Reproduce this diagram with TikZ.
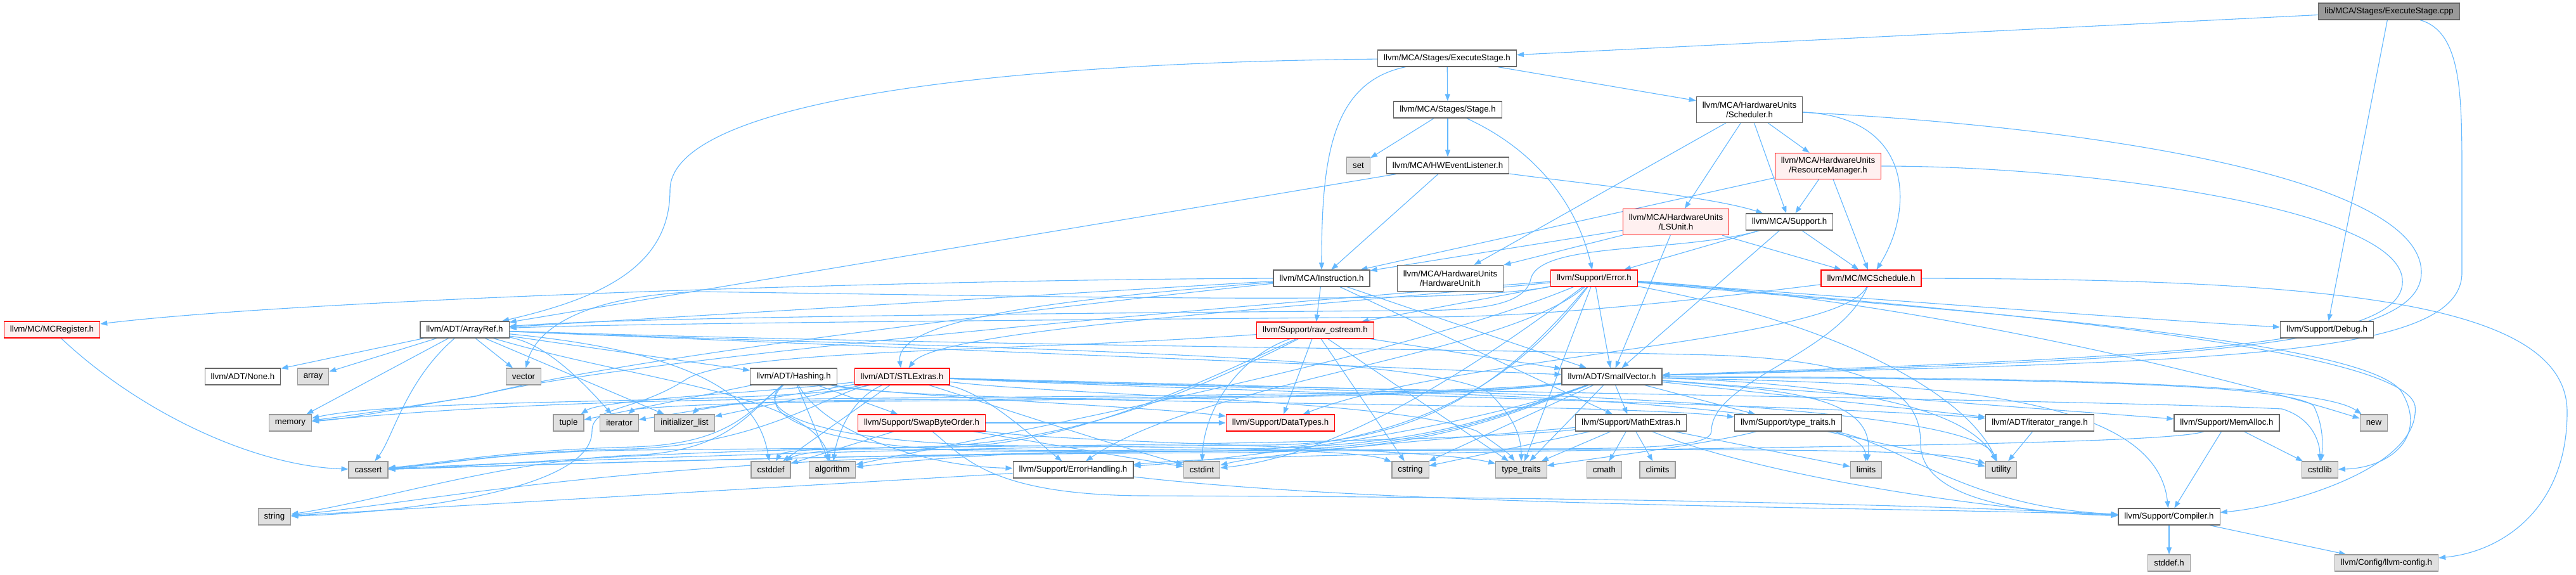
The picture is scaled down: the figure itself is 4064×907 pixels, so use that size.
\documentclass[tikz,border=0pt]{standalone}
\usepackage{fontspec}
\setmainfont{Liberation Sans}
\usetikzlibrary{arrows.meta}
\definecolor{edgeblue}{HTML}{63B8FF}
\definecolor{nodeborder}{HTML}{666666}
\definecolor{sysfill}{HTML}{E0E0E0}
\definecolor{sysborder}{HTML}{999999}
\definecolor{redfill}{HTML}{FFF0F0}
\definecolor{redborder}{HTML}{FF0000}
\definecolor{rootfill}{HTML}{999999}
\pgfdeclarelayer{bg}
\pgfsetlayers{bg,main}
\begin{document}
\begin{tikzpicture}[x=1pt,y=-1pt,
  basen/.style={rectangle, inner xsep=9.5pt, inner ysep=2pt, minimum height=26pt, line width=1.2pt,
    font=\fontsize{13.3}{15}\selectfont, align=center, text=black},
  wn/.style={basen, draw=nodeborder, fill=white},
  gn/.style={basen, draw=sysborder, fill=sysfill},
  rn/.style={basen, draw=redborder, fill=redfill},
  rootn/.style={basen, draw=nodeborder, fill=rootfill},
  two/.style={minimum height=41pt},
  edg/.style={draw=edgeblue, line width=1.1pt, -{Triangle[length=11pt,width=8pt]}}]
\useasboundingbox (0,0) rectangle (4064,907);
\begin{pgfonlayer}{bg}
\fill[white] (0,0) rectangle (4064,907);
\end{pgfonlayer}
% ---------------- nodes ----------------
\node[rootn] (cpp) at (3769,18) {lib/MCA/Stages/ExecuteStage.cpp};
\node[wn] (ES) at (2283,92) {llvm/MCA/Stages/ExecuteStage.h};
\node[wn,two] (Sched) at (2760,173) {llvm/MCA/HardwareUnits\\/Scheduler.h};
\node[wn] (Stage) at (2284,173) {llvm/MCA/Stages/Stage.h};
\node[gn] (nset) at (2143,261) {set};
\node[wn] (HWEL) at (2284,261) {llvm/MCA/HWEventListener.h};
\node[rn,two] (RM) at (2884,262) {llvm/MCA/HardwareUnits\\/ResourceManager.h};
\node[rn,two] (LSU) at (2644,350) {llvm/MCA/HardwareUnits\\/LSUnit.h};
\node[wn] (MSup) at (2823,350) {llvm/MCA/Support.h};
\node[wn] (Inst) at (2085,439) {llvm/MCA/Instruction.h};
\node[wn,two] (HWU) at (2288,439) {llvm/MCA/HardwareUnits\\/HardwareUnit.h};
\node[rn] (Err) at (2515,439) {llvm/Support/Error.h};
\node[rn] (MCS) at (2952,439) {llvm/MC/MCSchedule.h};
\node[rn] (raw) at (2075,521) {llvm/Support/raw\_ostream.h};
\node[wn] (Debug) at (3671,520) {llvm/Support/Debug.h};
\node[rn] (MCReg) at (82,520) {llvm/MC/MCRegister.h};
\node[wn] (AR) at (733,520) {llvm/ADT/ArrayRef.h};
\node[wn] (SV) at (2543,594) {llvm/ADT/SmallVector.h};
\node[wn] (None) at (383,594) {llvm/ADT/None.h};
\node[gn] (array) at (494,594) {array};
\node[gn] (vector) at (826,594) {vector};
\node[wn] (Hash) at (1252,594) {llvm/ADT/Hashing.h};
\node[rn] (STL) at (1423,594) {llvm/ADT/STLExtras.h};
\node[gn] (memory) at (458,667) {memory};
\node[gn] (tuple) at (897,667) {tuple};
\node[gn] (iterator) at (977,667) {iterator};
\node[gn] (initl) at (1080,667) {initializer\_list};
\node[rn] (Swap) at (1454,667) {llvm/Support/SwapByteOrder.h};
\node[rn] (DT) at (2020,667) {llvm/Support/DataTypes.h};
\node[wn] (Math) at (2573,667) {llvm/Support/MathExtras.h};
\node[wn] (TT) at (2821,667) {llvm/Support/type\_traits.h};
\node[wn] (IR) at (3218,667) {llvm/ADT/iterator\_range.h};
\node[wn] (MemA) at (3513,667) {llvm/Support/MemAlloc.h};
\node[gn] (nnew) at (3745,667) {new};
\node[gn] (cassert) at (581,741) {cassert};
\node[gn] (cstddef) at (1216,741) {cstddef};
\node[gn] (algo) at (1313,741) {algorithm};
\node[wn] (EH) at (1693,741) {llvm/Support/ErrorHandling.h};
\node[gn] (cstdint) at (1896,741) {cstdint};
\node[gn] (cstring) at (2225,741) {cstring};
\node[gn] (stt) at (2400,741) {type\_traits};
\node[gn] (cmath) at (2531,741) {cmath};
\node[gn] (climits) at (2615,741) {climits};
\node[gn] (limits) at (2944,741) {limits};
\node[gn] (utility) at (3157,741) {utility};
\node[gn] (cstdlib) at (3660,741) {cstdlib};
\node[gn] (string) at (433,815) {string};
\node[wn] (Comp) at (3422,815) {llvm/Support/Compiler.h};
\node[gn] (stddef) at (3422,888) {stddef.h};
\node[gn] (cfg) at (3765,888) {llvm/Config/llvm-config.h};
% ---------------- edges ----------------
\begin{pgfonlayer}{bg}
\foreach \a/\b in {cpp/ES, cpp/Debug, ES/Stage, ES/Sched, Stage/nset, Stage/HWEL,
  HWEL/AR, HWEL/Inst, Sched/HWU, Sched/LSU, Sched/MSup, Sched/RM,
  RM/Inst, RM/MSup, RM/MCS, LSU/Inst, LSU/HWU, LSU/SV, LSU/MCS,
  MSup/Err, MSup/SV, MSup/MCS, Inst/raw, Inst/SV, Inst/Math, Inst/AR,
  Err/raw, Err/SV, Err/stt, raw/SV, raw/DT, raw/cstring, raw/stt,
  AR/None, AR/array, AR/vector, AR/Hash, AR/SV, AR/memory, AR/initl,
  SV/IR, SV/Math, SV/TT, SV/MemA, SV/stt, SV/cstring,
  Hash/Swap, Hash/algo, Hash/tuple, STL/cstddef, STL/initl, STL/iterator,
  Swap/cstddef, Swap/DT, Swap/cstdint,
  Math/cmath, Math/climits, Math/limits, Math/stt, Math/cstring,
  TT/utility, IR/utility, MemA/Comp, MemA/cstdlib, Comp/stddef, Comp/cfg, EH/string}
  \draw[edg] (\a) -- (\b);
% cpp
\draw[edg] (cpp) .. controls (3884,50) and (3884,150) .. (3884,280) -- (3884,430) .. controls (3884,565) and (3500,570) .. (SV);
% ExecuteStage.h
\draw[edg] (ES) .. controls (2100,130) and (2085,250) .. (Inst);
\draw[edg] (ES) .. controls (1500,100) and (1057,170) .. (1057,300) .. controls (1057,420) and (950,470) .. (AR);
% Stage.h
\draw[edg] (Stage) .. controls (2430,240) and (2490,330) .. (Err);
% HWEventListener.h
\draw[edg] (HWEL) .. controls (2500,290) and (2700,310) .. (MSup);
% Scheduler.h
\draw[edg] (Sched) .. controls (3020,185) and (3020,330) .. (MCS);
\draw[edg] (Sched) .. controls (3300,200) and (3820,280) .. (3820,430) .. controls (3820,548) and (3450,568) .. (SV);
% ResourceManager.h
\draw[edg] (RM) .. controls (3300,262) and (3780,330) .. (3790,440) .. controls (3800,545) and (3450,563) .. (SV);
% MCA/Support.h
\draw[edg] (MSup) .. controls (2650,400) and (2430,380) .. (2415,440) .. controls (2405,490) and (2300,490) .. (2200,490) .. controls (1600,495) and (1000,500) .. (AR);
% Instruction.h
\draw[edg] (Inst) .. controls (1500,440) and (500,470) .. (MCReg);
\draw[edg] (Inst) .. controls (1700,470) and (1410,500) .. (STL);
\draw[edg] (Inst) .. controls (1700,480) and (1000,560) .. (750,625) .. controls (620,645) and (560,660) .. (memory);
% Error.h
\draw[edg] (Err) .. controls (2000,490) and (1480,520) .. (STL);
\draw[edg] (Err) .. controls (3000,475) and (3400,505) .. (Debug);
\draw[edg] (Err) .. controls (2380,560) and (1900,600) .. (EH);
\draw[edg] (Err) .. controls (3000,480) and (3790,540) .. (3810,640) .. controls (3820,740) and (3600,800) .. (Comp);
\draw[edg] (Err) .. controls (2200,570) and (1500,700) .. (algo);
\draw[edg] (Err) .. controls (2380,600) and (2250,700) .. (2000,702) .. controls (1400,705) and (800,730) .. (cassert);
\draw[edg] (Err) .. controls (2300,600) and (2100,720) .. (cstdint);
\draw[edg] (Err) .. controls (3000,485) and (3740,530) .. (3790,620) .. controls (3830,690) and (3770,738) .. (cstdlib);
\draw[edg] (Err) .. controls (3000,470) and (3500,590) .. (nnew);
\draw[edg] (Err) .. controls (2900,510) and (3100,620) .. (utility);
\draw[edg] (Err) .. controls (2380,620) and (2200,712) .. (1900,712) .. controls (1000,715) and (700,790) .. (string);
\draw[edg] (Err) .. controls (2100,470) and (1000,560) .. (750,625) .. controls (650,640) and (560,655) .. (memory);
\draw[edg] (Err) .. controls (2300,480) and (1800,470) .. (1100,460) .. controls (880,470) and (840,540) .. (vector);
% MCSchedule.h
\draw[edg] (MCS) .. controls (2700,470) and (2450,500) .. (2250,500) .. controls (1600,505) and (1000,510) .. (AR);
\draw[edg] (MCS) .. controls (2900,540) and (2300,560) .. (DT);
\draw[edg] (MCS) .. controls (2900,560) and (2700,600) .. (2700,680) .. controls (2700,705) and (2600,708) .. (2400,708) .. controls (1500,710) and (800,735) .. (cassert);
\draw[edg] (MCS) .. controls (3700,440) and (4050,480) .. (4050,650) .. controls (4050,800) and (3950,870) .. (cfg);
% raw_ostream.h
\draw[edg] (raw) .. controls (1960,560) and (1900,640) .. (cstdint);
\draw[edg] (raw) .. controls (1600,555) and (1150,550) .. (1080,600) .. controls (1000,650) and (934,640) .. (934,680) .. controls (934,780) and (600,810) .. (string);
\draw[edg] (raw) .. controls (1900,600) and (1700,700) .. (1500,705) .. controls (1000,710) and (800,735) .. (cassert);
\draw[edg] (raw) .. controls (1900,610) and (1700,700) .. (1450,705) .. controls (1300,708) and (1260,715) .. (cstddef);
% ArrayRef.h
\draw[edg] (AR) .. controls (850,540) and (900,580) .. (iterator);
\draw[edg] (AR) .. controls (1150,560) and (1200,650) .. (cstddef);
\draw[edg] (AR) .. controls (1000,600) and (1280,620) .. (algo);
\draw[edg] (AR) .. controls (640,600) and (620,690) .. (cassert);
\draw[edg] (AR) .. controls (1500,545) and (2300,550) .. (2700,560) .. controls (3000,570) and (3030,640) .. (3030,700) .. controls (3030,790) and (3200,810) .. (Comp);
\draw[edg] (AR) .. controls (1500,550) and (2250,555) .. (2350,620) .. controls (2390,660) and (2400,690) .. (stt);
% SmallVector.h
\draw[edg] (SV) .. controls (3000,605) and (3400,610) .. (Comp);
\draw[edg] (SV) .. controls (2300,680) and (1950,725) .. (EH);
\draw[edg] (SV) .. controls (2350,660) and (2250,705) .. (1950,708) .. controls (1600,710) and (1450,725) .. (algo);
\draw[edg] (SV) .. controls (2350,665) and (2250,712) .. (1950,714) .. controls (1300,716) and (800,735) .. (cassert);
\draw[edg] (SV) .. controls (2350,662) and (2250,709) .. (1950,711) .. controls (1500,713) and (1240,700) .. (cstddef);
\draw[edg] (SV) .. controls (3100,598) and (3600,600) .. (3650,640) .. controls (3665,670) and (3665,700) .. (cstdlib);
\draw[edg] (SV) .. controls (3100,595) and (3650,600) .. (nnew);
\draw[edg] (SV) .. controls (2900,605) and (3100,640) .. (utility);
\draw[edg] (SV) .. controls (2800,615) and (2960,620) .. (limits);
\draw[edg] (SV) .. controls (2300,625) and (1600,625) .. (1200,630) .. controls (800,635) and (600,655) .. (memory);
\draw[edg] (SV) .. controls (2300,628) and (1600,628) .. (1300,632) .. controls (1150,634) and (1100,645) .. (initl);
\draw[edg] (SV) .. controls (2300,630) and (1600,630) .. (1300,634) .. controls (1100,636) and (1000,645) .. (iterator);
% Hashing.h
\draw[edg] (Hash) .. controls (1400,625) and (1800,640) .. (DT);
\draw[edg] (Hash) .. controls (1300,680) and (1450,735) .. (EH);
\draw[edg] (Hash) .. controls (1450,640) and (2500,632) .. (TT);
\draw[edg] (Hash) .. controls (1180,650) and (1150,700) .. (1000,705) .. controls (800,710) and (700,730) .. (cassert);
\draw[edg] (Hash) .. controls (1180,650) and (1150,712) .. (1000,718) .. controls (800,725) and (600,790) .. (string);
\draw[edg] (Hash) .. controls (1180,650) and (1300,700) .. (1600,703) .. controls (1900,705) and (2150,710) .. (cstring);
\draw[edg] (Hash) .. controls (1180,655) and (1300,712) .. (1600,712) .. controls (2500,712) and (3050,700) .. (utility);
% STLExtras.h
\draw[edg] (STL) .. controls (1340,630) and (1320,690) .. (algo);
\draw[edg] (STL) .. controls (1560,620) and (1640,700) .. (EH);
\draw[edg] (STL) .. controls (1200,620) and (950,630) .. (tuple);
\draw[edg] (STL) .. controls (2000,620) and (2900,640) .. (IR);
\draw[edg] (STL) .. controls (1300,625) and (1200,700) .. (1000,708) .. controls (800,712) and (700,732) .. (cassert);
\draw[edg] (STL) .. controls (1600,650) and (1750,700) .. (cstdint);
\draw[edg] (STL) .. controls (2000,615) and (3300,630) .. (3600,645) .. controls (3650,660) and (3660,700) .. (cstdlib);
\draw[edg] (STL) .. controls (1250,640) and (650,625) .. (memory);
\draw[edg] (STL) .. controls (2000,618) and (2940,615) .. (limits);
\draw[edg] (STL) .. controls (1700,625) and (2200,630) .. (2330,680) .. controls (2360,700) and (2380,715) .. (stt);
\draw[edg] (STL) .. controls (2000,612) and (3100,620) .. (utility);
% SwapByteOrder.h
\draw[edg] (Swap) .. controls (1700,700) and (2250,705) .. (stt);
\draw[edg] (Swap) .. controls (1520,720) and (1560,780) .. (1800,782) .. controls (2800,785) and (3200,805) .. (Comp);
% MathExtras.h
\draw[edg] (Math) .. controls (2300,690) and (2000,715) .. (cstdint);
\draw[edg] (Math) .. controls (2300,700) and (1500,705) .. (1000,710) .. controls (800,712) and (700,733) .. (cassert);
\draw[edg] (Math) .. controls (2800,760) and (3200,810) .. (Comp);
% type_traits.h
\draw[edg] (TT) .. controls (2700,700) and (2500,725) .. (stt);
\draw[edg] (TT) .. controls (3000,700) and (3100,800) .. (Comp);
% MemAlloc.h
\draw[edg] (MemA) .. controls (3400,710) and (2100,705) .. (EH);
% ErrorHandling.h
\draw[edg] (EH) .. controls (2200,800) and (3000,800) .. (Comp);
% MCRegister.h
\draw[edg] (MCReg) .. controls (220,650) and (400,735) .. (cassert);
\end{pgfonlayer}
\end{tikzpicture}
\end{document}
